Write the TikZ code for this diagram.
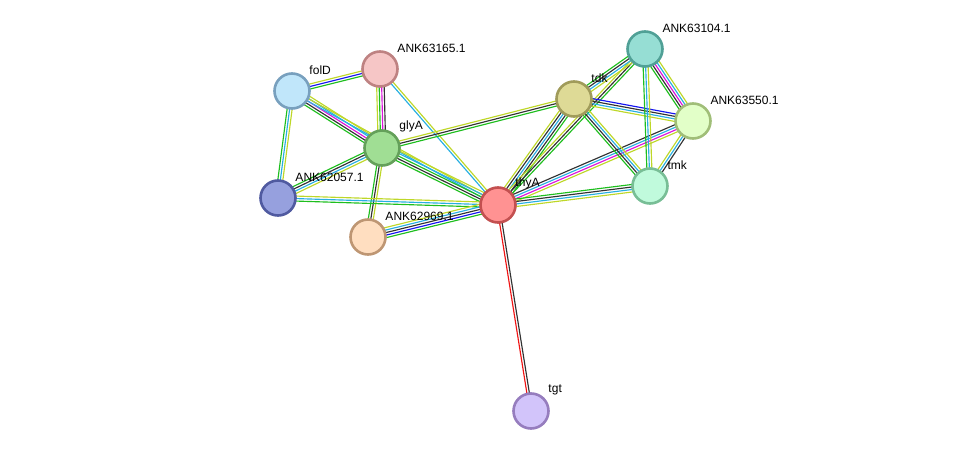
\documentclass[tikz,border=0pt]{standalone}
\usepackage{fontspec}
\setmainfont{Liberation Sans}
\usetikzlibrary{calc,backgrounds}

\definecolor{sgreen}{RGB}{30,190,30}
\definecolor{sblue}{RGB}{20,20,240}
\definecolor{sblack}{RGB}{50,50,50}
\definecolor{smag}{RGB}{220,20,220}
\definecolor{scyan}{RGB}{40,175,225}
\definecolor{syel}{RGB}{190,215,40}
\definecolor{sred}{RGB}{240,20,20}

% bundle of parallel evidence lines between two nodes
\newcommand{\evid}[3]{%
  \gdef\nlines{0}%
  \foreach \c in {#3} {\pgfmathtruncatemacro\tmp{\nlines+1}\global\let\nlines\tmp}%
  \foreach \c [count=\i] in {#3} {%
    \pgfmathsetmacro\off{(\i-(\nlines+1)/2)*2.5}%
    \draw [evline,\c] ($(#1.center)!\off pt!90:(#2.center)$) -- ($(#2.center)!\off pt!-90:(#1.center)$);
  }}

\begin{document}
\begin{tikzpicture}[x=1pt,y=-1pt,
    evline/.style={line width=1.15pt},
    prot/.style={circle,draw,line width=2.6pt,minimum size=35pt,inner sep=0pt,
      label={[font=\fontsize{12}{14}\selectfont,label distance=0pt,inner sep=2pt,xshift=2pt,yshift=1pt]above right:#1}},
    ]
    \useasboundingbox (0,0) rectangle (975,457);
    \node at (292,91) [prot=folD,fill={rgb,255:red,192;green,230;blue,250},draw={rgb,255:red,120;green,160;blue,190}] (folD) {};
    \node at (380,69) [prot=ANK63165.1,fill={rgb,255:red,246;green,198;blue,198},draw={rgb,255:red,190;green,130;blue,130}] (p165) {};
    \node at (382,148) [prot=glyA,fill={rgb,255:red,160;green,222;blue,148},draw={rgb,255:red,100;green,160;blue,90}] (glyA) {};
    \node at (278,198) [prot=ANK62057.1,fill={rgb,255:red,150;green,160;blue,222},draw={rgb,255:red,80;green,90;blue,160}] (p057) {};
    \node at (368,237) [prot=ANK62969.1,fill={rgb,255:red,255;green,222;blue,192},draw={rgb,255:red,190;green,150;blue,115}] (p969) {};
    \node at (498,205) [prot=thyA,fill={rgb,255:red,255;green,146;blue,146},draw={rgb,255:red,195;green,80;blue,80}] (thyA) {};
    \node at (574,99) [prot=tdk,fill={rgb,255:red,222;green,218;blue,150},draw={rgb,255:red,160;green,155;blue,90}] (tdk) {};
    \node at (645,49) [prot=ANK63104.1,fill={rgb,255:red,150;green,222;blue,212},draw={rgb,255:red,80;green,160;blue,150}] (p104) {};
    \node at (693,121) [prot=ANK63550.1,fill={rgb,255:red,226;green,255;blue,200},draw={rgb,255:red,160;green,190;blue,120}] (p550) {};
    \node at (650,186) [prot=tmk,fill={rgb,255:red,192;green,250;blue,220},draw={rgb,255:red,120;green,190;blue,150}] (tmk) {};
    \node at (531,411) [prot=tgt,fill={rgb,255:red,210;green,196;blue,250},draw={rgb,255:red,150;green,125;blue,190}] (tgt) {};
    \begin{pgfonlayer}{background}
    \evid{folD}{p165}{sgreen,sblue,syel}
    \evid{folD}{glyA}{sgreen,sblack,smag,scyan,syel}
    \evid{folD}{thyA}{scyan,syel}
    \evid{folD}{p057}{sgreen,scyan,syel}
    \evid{p165}{glyA}{syel,sgreen,smag,sblack}
    \evid{p165}{thyA}{scyan,syel}
    \evid{glyA}{tdk}{sgreen,sblack,syel}
    \evid{glyA}{thyA}{sgreen,sblack,sgreen,scyan,syel}
    \evid{glyA}{p057}{sgreen,sblack,scyan,syel}
    \evid{glyA}{p969}{sgreen,sblack,syel}
    \evid{p057}{thyA}{sgreen,scyan,syel}
    \evid{p969}{thyA}{sgreen,sblue,sblack,scyan,syel}
    \evid{thyA}{tdk}{sgreen,sblack,scyan,sblack,syel}
    \evid{thyA}{p104}{sgreen,sblack,syel}
    \evid{thyA}{p550}{syel,smag,scyan,sblack}
    \evid{thyA}{tmk}{syel,scyan,sblack,sgreen}
    \evid{thyA}{tgt}{sred,sblack}
    \evid{tdk}{p104}{syel,scyan,sblack,sgreen}
    \evid{tdk}{p550}{syel,scyan,sblack,sblue}
    \evid{tdk}{tmk}{sgreen,sblack,scyan,syel}
    \evid{p104}{p550}{sgreen,sblack,smag,scyan,syel}
    \evid{p104}{tmk}{sgreen,scyan,syel}
    \evid{p550}{tmk}{syel,scyan,sblack}
    \end{pgfonlayer}
\end{tikzpicture}
\end{document}
